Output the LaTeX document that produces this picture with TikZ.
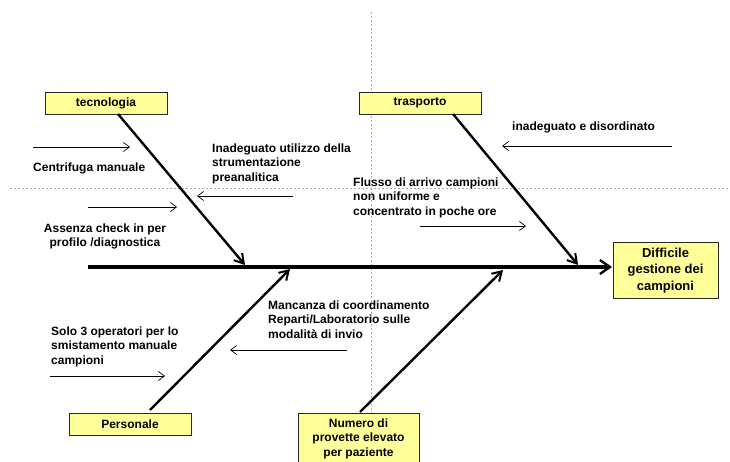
\documentclass[tikz,border=0pt]{standalone}
\usepackage{fontspec}
\setmainfont{Liberation Sans}
\usetikzlibrary{arrows.meta}
\definecolor{boxfill}{HTML}{FFFF99}
\definecolor{guide}{HTML}{AAAAAA}
\begin{document}
\begin{tikzpicture}[x=1pt,y=-1pt,
  catbox/.style={draw=black!85,line width=0.8pt,fill=boxfill,minimum width=122pt,minimum height=22pt,inner sep=0pt,font=\bfseries\fontsize{12}{14.5}\selectfont},
  lbl/.style={inner sep=0pt,font=\bfseries\fontsize{12}{14.5}\selectfont,align=left},
  bone/.style={line width=2.4pt,-{Straight Barb[length=9pt,width=11pt,line width=2pt]}},
  spine/.style={line width=3.4pt,-{Straight Barb[length=10pt,width=14pt,line width=2.4pt]}},
  thin/.style={line width=0.7pt,-{Straight Barb[length=6pt,width=9pt,line width=0.7pt]}},
  guideline/.style={guide,line width=0.7pt,dash pattern=on 2pt off 2pt}]
\useasboundingbox (0,0) rectangle (730,462);
\clip (0,0) rectangle (730,462);
% guides
\coordinate (gvT) at (371,12);
\coordinate (gvB) at (371,462);
\coordinate (ghL) at (10,188);
\coordinate (ghR) at (730,188);
\draw[guideline] (gvT) -- (gvB);
\draw[guideline] (ghL) -- (ghR);
% boxes
\node[catbox] (tec) at (106,103) {tecnologia};
\node[catbox] (tra) at (420,103) {trasporto};
\node[catbox] (per) at (130,424) {Personale};
\node[catbox,minimum width=121pt,minimum height=51pt,align=center] (num) at (358.5,438.5) {Numero di\\provette elevato\\per paziente};
\node[catbox,minimum width=105pt,minimum height=56pt,align=center,font=\bfseries\fontsize{13}{16.5}\selectfont] (dif) at (665.5,270.5) {Difficile\\gestione dei\\campioni};
% spine
\coordinate (spS) at (88,267);
\coordinate (spE) at (612,267);
\draw[spine] (spS) -- (spE);
% bones
\coordinate (tecS) at (118,114);
\coordinate (tecE) at (245,265);
\coordinate (traS) at (453,114);
\coordinate (traE) at (578,265);
\coordinate (perS) at (150,410);
\coordinate (perE) at (290,269);
\coordinate (numS) at (360,412);
\coordinate (numE) at (503,270);
\draw[bone] (tecS) -- (tecE);
\draw[bone] (traS) -- (traE);
\draw[bone] (perS) -- (perE);
\draw[bone] (numS) -- (numE);
% labels
\node[lbl,anchor=north west] (l1) at (33,162.6) {Centrifuga manuale};
\node[lbl,anchor=north west] (l2) at (212,143.6) {Inadeguato utilizzo della\\strumentazione\\preanalitica};
\node[lbl,anchor=north,align=center] (l3) at (105,223.6) {Assenza check in per\\profilo /diagnostica};
\node[lbl,anchor=north west] (l4) at (512,121.6) {inadeguato e disordinato};
\node[lbl,anchor=north west] (l5) at (353,177.6) {Flusso di arrivo campioni\\non uniforme e\\concentrato in poche ore};
\node[lbl,anchor=north west] (l6) at (268,300.6) {Mancanza di coordinamento\\Reparti/Laboratorio sulle\\modalità di invio};
\node[lbl,anchor=north west] (l7) at (51,326.6) {Solo 3 operatori per lo\\smistamento manuale\\campioni};
% thin arrows
\coordinate (a1s) at (33,147);  \coordinate (a1e) at (130,147);
\coordinate (a2s) at (88,207);  \coordinate (a2e) at (177,207);
\coordinate (a3s) at (293,196); \coordinate (a3e) at (197,196);
\coordinate (a4s) at (672,146); \coordinate (a4e) at (502,146);
\coordinate (a5s) at (420,226); \coordinate (a5e) at (526,226);
\coordinate (a6s) at (347,350); \coordinate (a6e) at (230,350);
\coordinate (a7s) at (50,376);  \coordinate (a7e) at (165,376);
\foreach \i in {1,...,7} \draw[thin] (a\i s) -- (a\i e);
\end{tikzpicture}
\end{document}
